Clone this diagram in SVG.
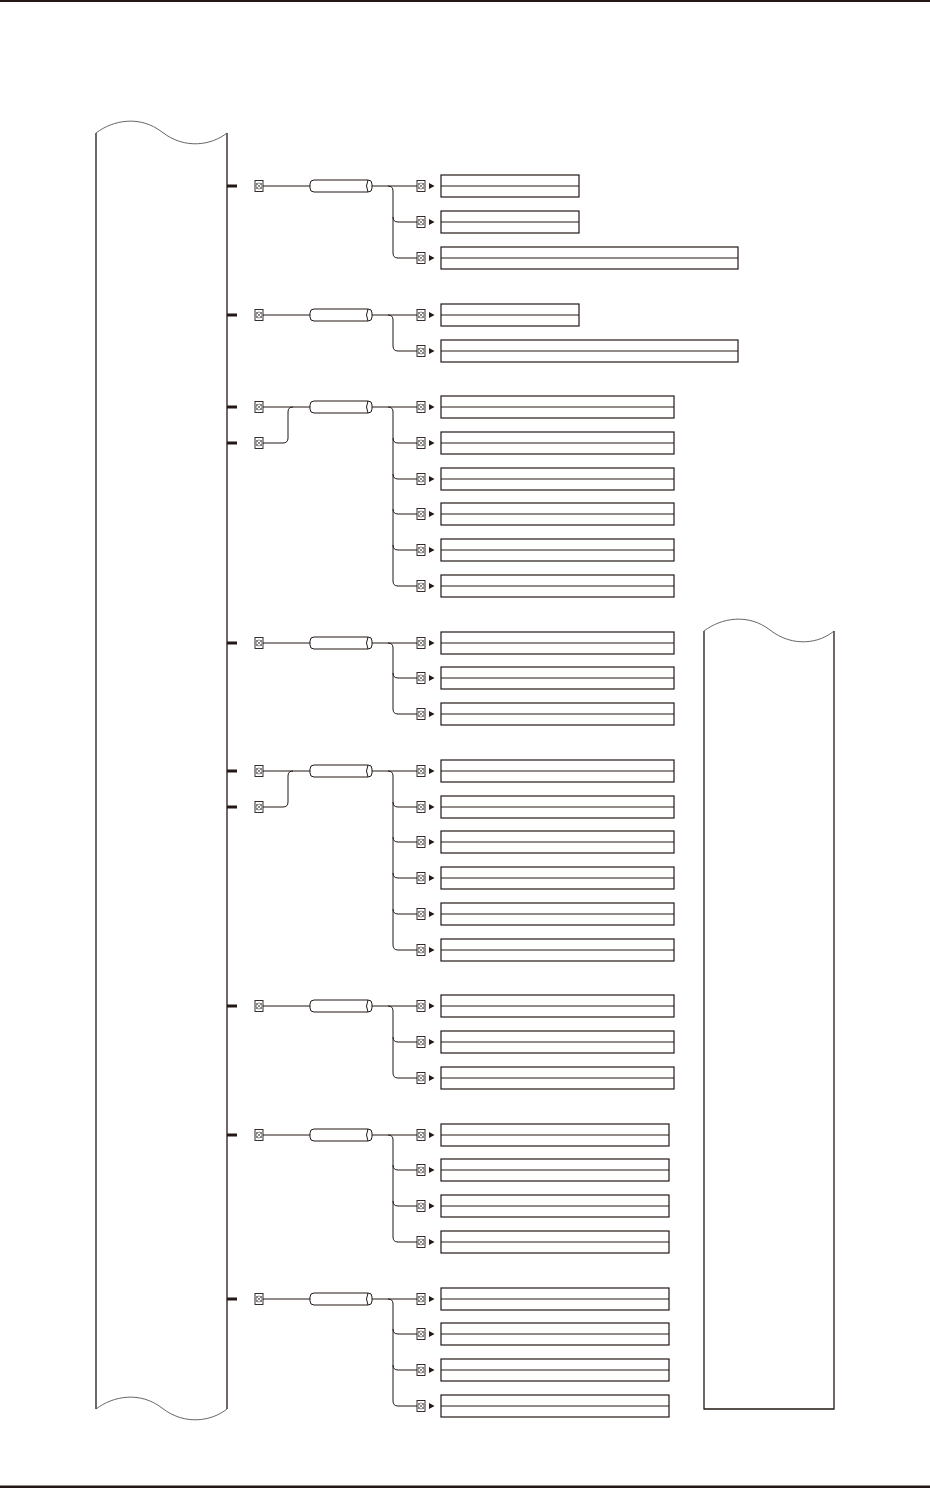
<svg xmlns="http://www.w3.org/2000/svg" xmlns:xlink="http://www.w3.org/1999/xlink" width="930" height="1488" viewBox="0 0 930 1488">
<style>
.ln{fill:none;stroke:#231815;stroke-width:1}
.stub{fill:none;stroke:#231815;stroke-width:3}
.col{fill:none;stroke:#231815;stroke-width:1.3}
.wave{fill:none;stroke:#555;stroke-width:0.9}
.tb{fill:#fff;stroke:#231815;stroke-width:1.2}
.cap{fill:#fff;stroke:#231815;stroke-width:1}
.bar{fill:#231815}
</style>
<defs>
<g id="sq">
<rect x="-4" y="-5.5" width="8" height="11" fill="#fff" stroke="#231815" stroke-width="0.9"/>
<circle cx="0" cy="0" r="3" fill="none" stroke="#555" stroke-width="0.7"/>
<path d="M-3,-3 L3,3 M3,-3 L-3,3" stroke="#555" stroke-width="0.7"/>
</g>
<path id="arr" d="M0,-3 L5.5,0 L0,3Z" fill="#231815"/>
<g id="capsule">
<rect x="0" y="-6" width="62" height="12" rx="4" class="cap"/>
<path d="M58,-6 Q55,0 58,6" class="ln"/>
</g>
</defs>
<rect x="0" y="0" width="930" height="2" class="bar"/>
<rect x="0" y="1485.5" width="930" height="2.5" class="bar"/>

<g id="left-column">
<path d="M96,133 V1409 M227,133 V1409" class="col"/>
<path d="M96,133 C113,120 140,115 162,132 C185,150 212,145 227,133" class="wave"/>
<path d="M96,1409 C113,1396 140,1391 162,1408 C185,1426 212,1421 227,1409" class="wave"/>
</g>
<g id="right-column">
<path d="M704,631 V1409 H834 V631" class="col"/>
<path d="M704,631 C721,618 748,613 770,630 C793,648 820,643 834,631" class="wave"/>
</g>

<g id="connectors">
<!-- G1 -->
<path d="M227,186 H237" class="stub"/>
<path d="M263,186 H310 M372,186 H418 M388,186 Q393,186 393,191 V253 Q393,258 398,258 H418 M393,217 Q393,222 398,222 H418" class="ln"/>
<!-- G2 -->
<path d="M227,315 H237" class="stub"/>
<path d="M263,315 H310 M372,315 H418 M388,315 Q393,315 393,320 V346 Q393,351 398,351 H418" class="ln"/>
<!-- G3 -->
<path d="M227,407 H237 M227,443 H237" class="stub"/>
<path d="M263,407 H310 M263,443 H283 Q288,443 288,438 V412 Q288,407 293,407 M372,407 H418 M388,407 Q393,407 393,412 V581 Q393,586 398,586 H418 M393,438 Q393,443 398,443 H418 M393,474 Q393,479 398,479 H418 M393,509 Q393,514 398,514 H418 M393,545 Q393,550 398,550 H418" class="ln"/>
<!-- G4 -->
<path d="M227,643 H237" class="stub"/>
<path d="M263,643 H310 M372,643 H418 M388,643 Q393,643 393,648 V709 Q393,714 398,714 H418 M393,673 Q393,678 398,678 H418" class="ln"/>
<!-- G5 -->
<path d="M227,771 H237 M227,807 H237" class="stub"/>
<path d="M263,771 H310 M263,807 H283 Q288,807 288,802 V776 Q288,771 293,771 M372,771 H418 M388,771 Q393,771 393,776 V945 Q393,950 398,950 H418 M393,802 Q393,807 398,807 H418 M393,837 Q393,842 398,842 H418 M393,873 Q393,878 398,878 H418 M393,909 Q393,914 398,914 H418" class="ln"/>
<!-- G6 -->
<path d="M227,1006 H237" class="stub"/>
<path d="M263,1006 H310 M372,1006 H418 M388,1006 Q393,1006 393,1011 V1073 Q393,1078 398,1078 H418 M393,1037 Q393,1042 398,1042 H418" class="ln"/>
<!-- G7 -->
<path d="M227,1135 H237" class="stub"/>
<path d="M263,1135 H310 M372,1135 H418 M388,1135 Q393,1135 393,1140 V1237 Q393,1242 398,1242 H418 M393,1165 Q393,1170 398,1170 H418 M393,1201 Q393,1206 398,1206 H418" class="ln"/>
<!-- G8 -->
<path d="M227,1299 H237" class="stub"/>
<path d="M263,1299 H310 M372,1299 H418 M388,1299 Q393,1299 393,1304 V1401 Q393,1406 398,1406 H418 M393,1329 Q393,1334 398,1334 H418 M393,1365 Q393,1370 398,1370 H418" class="ln"/>
</g>

<!-- Input nodes -->
<g id="in-1"><use xlink:href="#sq" x="259" y="186"/></g>
<g id="in-2"><use xlink:href="#sq" x="259" y="315"/></g>
<g id="in-3a"><use xlink:href="#sq" x="259" y="407"/></g>
<g id="in-3b"><use xlink:href="#sq" x="259" y="443"/></g>
<g id="in-4"><use xlink:href="#sq" x="259" y="643"/></g>
<g id="in-5a"><use xlink:href="#sq" x="259" y="771"/></g>
<g id="in-5b"><use xlink:href="#sq" x="259" y="807"/></g>
<g id="in-6"><use xlink:href="#sq" x="259" y="1006"/></g>
<g id="in-7"><use xlink:href="#sq" x="259" y="1135"/></g>
<g id="in-8"><use xlink:href="#sq" x="259" y="1299"/></g>

<!-- Capsules -->
<g id="cap-1"><use xlink:href="#capsule" x="310" y="186"/></g>
<g id="cap-2"><use xlink:href="#capsule" x="310" y="315"/></g>
<g id="cap-3"><use xlink:href="#capsule" x="310" y="407"/></g>
<g id="cap-4"><use xlink:href="#capsule" x="310" y="643"/></g>
<g id="cap-5"><use xlink:href="#capsule" x="310" y="771"/></g>
<g id="cap-6"><use xlink:href="#capsule" x="310" y="1006"/></g>
<g id="cap-7"><use xlink:href="#capsule" x="310" y="1135"/></g>
<g id="cap-8"><use xlink:href="#capsule" x="310" y="1299"/></g>

<!-- Output nodes -->
<g id="out-1-1"><use xlink:href="#sq" x="421" y="186"/><use xlink:href="#arr" x="429" y="186"/><rect x="441" y="175" width="138" height="22" class="tb"/><path d="M441,186 H579" class="ln"/></g>
<g id="out-1-2"><use xlink:href="#sq" x="421" y="222"/><use xlink:href="#arr" x="429" y="222"/><rect x="441" y="211" width="138" height="22" class="tb"/><path d="M441,222 H579" class="ln"/></g>
<g id="out-1-3"><use xlink:href="#sq" x="421" y="258"/><use xlink:href="#arr" x="429" y="258"/><rect x="441" y="247" width="297" height="22" class="tb"/><path d="M441,258 H738" class="ln"/></g>

<g id="out-2-1"><use xlink:href="#sq" x="421" y="315"/><use xlink:href="#arr" x="429" y="315"/><rect x="441" y="304" width="138" height="22" class="tb"/><path d="M441,315 H579" class="ln"/></g>
<g id="out-2-2"><use xlink:href="#sq" x="421" y="351"/><use xlink:href="#arr" x="429" y="351"/><rect x="441" y="340" width="297" height="22" class="tb"/><path d="M441,351 H738" class="ln"/></g>

<g id="out-3-1"><use xlink:href="#sq" x="421" y="407"/><use xlink:href="#arr" x="429" y="407"/><rect x="441" y="396" width="233" height="22" class="tb"/><path d="M441,407 H674" class="ln"/></g>
<g id="out-3-2"><use xlink:href="#sq" x="421" y="443"/><use xlink:href="#arr" x="429" y="443"/><rect x="441" y="432" width="233" height="22" class="tb"/><path d="M441,443 H674" class="ln"/></g>
<g id="out-3-3"><use xlink:href="#sq" x="421" y="479"/><use xlink:href="#arr" x="429" y="479"/><rect x="441" y="468" width="233" height="22" class="tb"/><path d="M441,479 H674" class="ln"/></g>
<g id="out-3-4"><use xlink:href="#sq" x="421" y="514"/><use xlink:href="#arr" x="429" y="514"/><rect x="441" y="503" width="233" height="22" class="tb"/><path d="M441,514 H674" class="ln"/></g>
<g id="out-3-5"><use xlink:href="#sq" x="421" y="550"/><use xlink:href="#arr" x="429" y="550"/><rect x="441" y="539" width="233" height="22" class="tb"/><path d="M441,550 H674" class="ln"/></g>
<g id="out-3-6"><use xlink:href="#sq" x="421" y="586"/><use xlink:href="#arr" x="429" y="586"/><rect x="441" y="575" width="233" height="22" class="tb"/><path d="M441,586 H674" class="ln"/></g>

<g id="out-4-1"><use xlink:href="#sq" x="421" y="643"/><use xlink:href="#arr" x="429" y="643"/><rect x="441" y="632" width="233" height="22" class="tb"/><path d="M441,643 H674" class="ln"/></g>
<g id="out-4-2"><use xlink:href="#sq" x="421" y="678"/><use xlink:href="#arr" x="429" y="678"/><rect x="441" y="667" width="233" height="22" class="tb"/><path d="M441,678 H674" class="ln"/></g>
<g id="out-4-3"><use xlink:href="#sq" x="421" y="714"/><use xlink:href="#arr" x="429" y="714"/><rect x="441" y="703" width="233" height="22" class="tb"/><path d="M441,714 H674" class="ln"/></g>

<g id="out-5-1"><use xlink:href="#sq" x="421" y="771"/><use xlink:href="#arr" x="429" y="771"/><rect x="441" y="760" width="233" height="22" class="tb"/><path d="M441,771 H674" class="ln"/></g>
<g id="out-5-2"><use xlink:href="#sq" x="421" y="807"/><use xlink:href="#arr" x="429" y="807"/><rect x="441" y="796" width="233" height="22" class="tb"/><path d="M441,807 H674" class="ln"/></g>
<g id="out-5-3"><use xlink:href="#sq" x="421" y="842"/><use xlink:href="#arr" x="429" y="842"/><rect x="441" y="831" width="233" height="22" class="tb"/><path d="M441,842 H674" class="ln"/></g>
<g id="out-5-4"><use xlink:href="#sq" x="421" y="878"/><use xlink:href="#arr" x="429" y="878"/><rect x="441" y="867" width="233" height="22" class="tb"/><path d="M441,878 H674" class="ln"/></g>
<g id="out-5-5"><use xlink:href="#sq" x="421" y="914"/><use xlink:href="#arr" x="429" y="914"/><rect x="441" y="903" width="233" height="22" class="tb"/><path d="M441,914 H674" class="ln"/></g>
<g id="out-5-6"><use xlink:href="#sq" x="421" y="950"/><use xlink:href="#arr" x="429" y="950"/><rect x="441" y="939" width="233" height="22" class="tb"/><path d="M441,950 H674" class="ln"/></g>

<g id="out-6-1"><use xlink:href="#sq" x="421" y="1006"/><use xlink:href="#arr" x="429" y="1006"/><rect x="441" y="995" width="233" height="22" class="tb"/><path d="M441,1006 H674" class="ln"/></g>
<g id="out-6-2"><use xlink:href="#sq" x="421" y="1042"/><use xlink:href="#arr" x="429" y="1042"/><rect x="441" y="1031" width="233" height="22" class="tb"/><path d="M441,1042 H674" class="ln"/></g>
<g id="out-6-3"><use xlink:href="#sq" x="421" y="1078"/><use xlink:href="#arr" x="429" y="1078"/><rect x="441" y="1067" width="233" height="22" class="tb"/><path d="M441,1078 H674" class="ln"/></g>

<g id="out-7-1"><use xlink:href="#sq" x="421" y="1135"/><use xlink:href="#arr" x="429" y="1135"/><rect x="441" y="1124" width="228" height="22" class="tb"/><path d="M441,1135 H669" class="ln"/></g>
<g id="out-7-2"><use xlink:href="#sq" x="421" y="1170"/><use xlink:href="#arr" x="429" y="1170"/><rect x="441" y="1159" width="228" height="22" class="tb"/><path d="M441,1170 H669" class="ln"/></g>
<g id="out-7-3"><use xlink:href="#sq" x="421" y="1206"/><use xlink:href="#arr" x="429" y="1206"/><rect x="441" y="1195" width="228" height="22" class="tb"/><path d="M441,1206 H669" class="ln"/></g>
<g id="out-7-4"><use xlink:href="#sq" x="421" y="1242"/><use xlink:href="#arr" x="429" y="1242"/><rect x="441" y="1231" width="228" height="22" class="tb"/><path d="M441,1242 H669" class="ln"/></g>

<g id="out-8-1"><use xlink:href="#sq" x="421" y="1299"/><use xlink:href="#arr" x="429" y="1299"/><rect x="441" y="1288" width="228" height="22" class="tb"/><path d="M441,1299 H669" class="ln"/></g>
<g id="out-8-2"><use xlink:href="#sq" x="421" y="1334"/><use xlink:href="#arr" x="429" y="1334"/><rect x="441" y="1323" width="228" height="22" class="tb"/><path d="M441,1334 H669" class="ln"/></g>
<g id="out-8-3"><use xlink:href="#sq" x="421" y="1370"/><use xlink:href="#arr" x="429" y="1370"/><rect x="441" y="1359" width="228" height="22" class="tb"/><path d="M441,1370 H669" class="ln"/></g>
<g id="out-8-4"><use xlink:href="#sq" x="421" y="1406"/><use xlink:href="#arr" x="429" y="1406"/><rect x="441" y="1395" width="228" height="22" class="tb"/><path d="M441,1406 H669" class="ln"/></g>
</svg>
